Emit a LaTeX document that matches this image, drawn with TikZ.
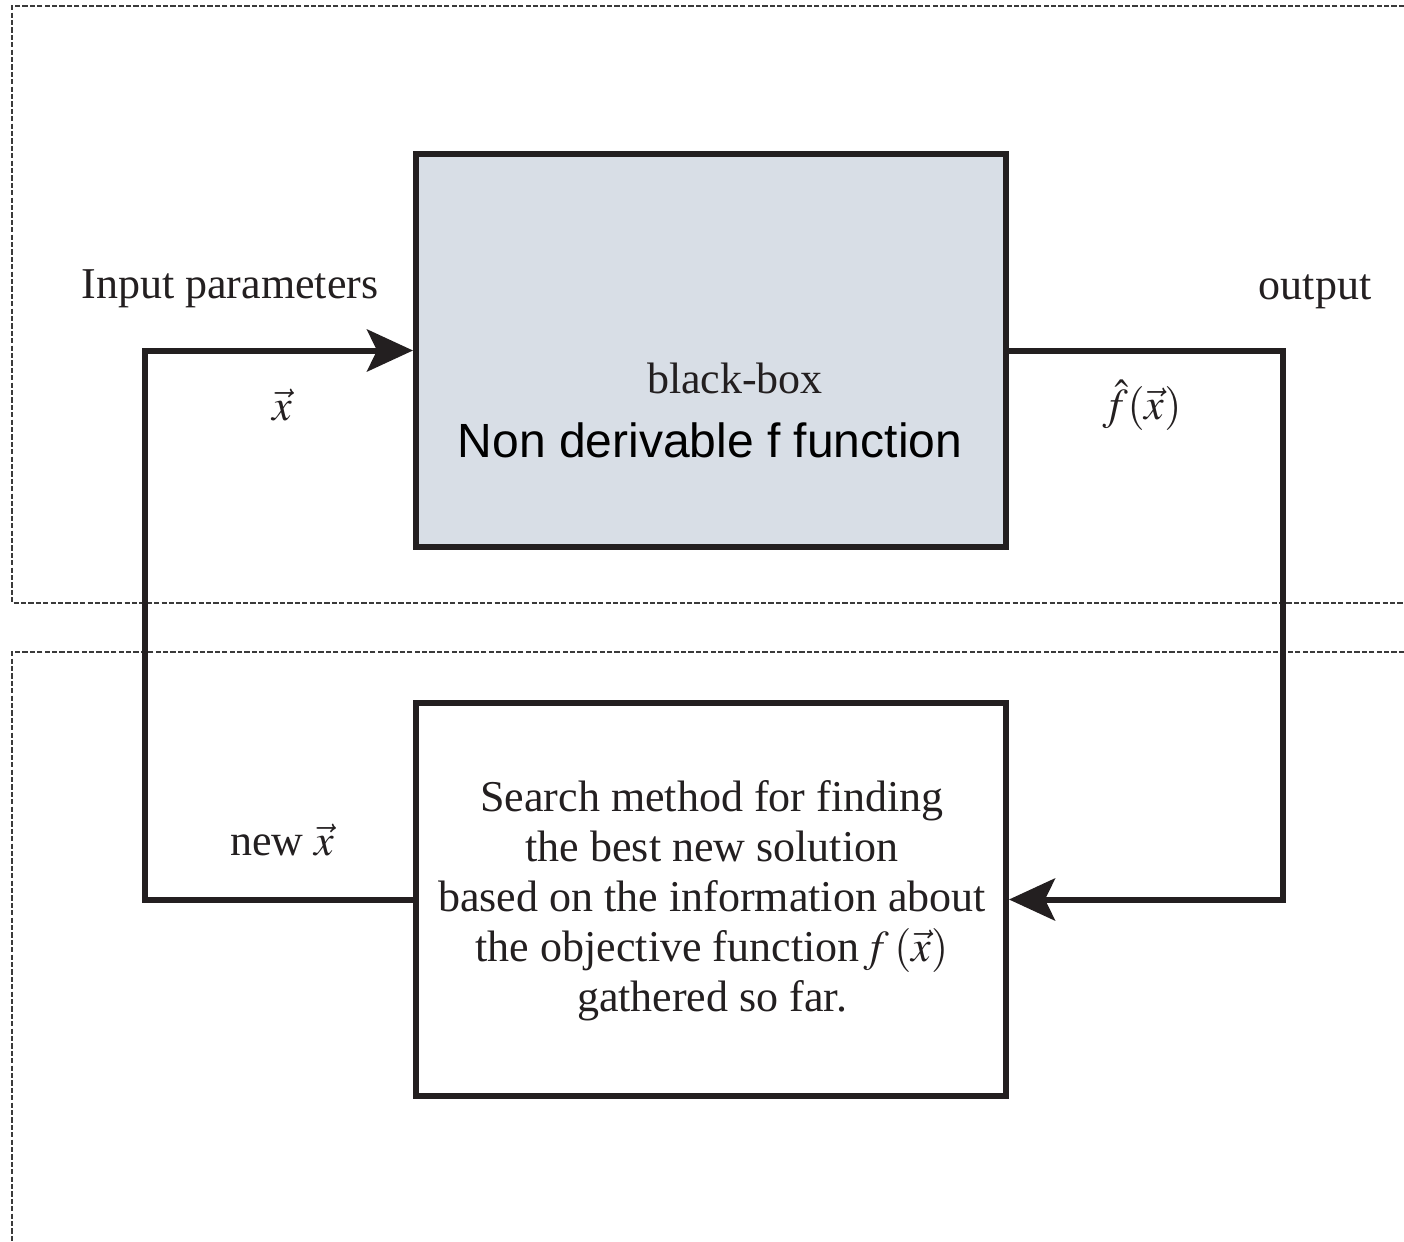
\documentclass[tikz,border=0pt]{standalone}
\usepackage{mathptmx}
\usepackage{fontspec}
\setmainfont{Liberation Serif}
\newfontfamily\arialfont{Liberation Sans}
\usetikzlibrary{arrows.meta}
\definecolor{ink}{HTML}{231F20}
\definecolor{boxfill}{HTML}{D8DEE6}
\definecolor{dashgray}{HTML}{3A3A3A}
\tikzset{
  frame/.style={draw=dashgray, line width=1.1pt, dash pattern=on 2.6pt off 1.1pt},
  blockbox/.style={draw=ink, line width=3pt, minimum width=295pt, minimum height=196.5pt, inner sep=0pt},
  conn/.style={draw=ink, line width=3pt},
  tip/.style={-{Stealth[length=23pt, width=21pt, inset=5pt]}},
  lbl/.style={text=ink, font=\fontsize{22pt}{25pt}\selectfont, inner sep=0pt},
}
\begin{document}
\begin{tikzpicture}[x=0.5pt, y=-0.5pt]
\useasboundingbox (0,0) rectangle (1404,1242);
% dashed frames
\draw[frame] (1404,6) -- (12,6) -- (12,603) -- (1404,603);
\draw[frame] (1404,652) -- (12,652) -- (12,1242);
% boxes
\node[blockbox, fill=boxfill] (bb) at (711,350.5) {};
\node[blockbox, fill=white] (sm) at (711,899.5) {};
% labels in boxes
\node[lbl] (bbt) at (735,378) {black-box};
\node[lbl, font=\arialfont\fontsize{24pt}{28pt}\selectfont, text=black] (nd) at (710,440) {Non derivable f function};
\node[lbl, align=center] (smt) at (712,901) {Search method for finding\\the best new solution\\based on the information about\\the objective function$\,f\,(\vec{x})$\\gathered so far.};
% outside labels
\node[lbl] (inp) at (230,289) {Input parameters};
\node[lbl] (xv) at (282,405) {$\vec{x}$};
\node[lbl] (outl) at (1315,292) {output};
\node[lbl] (fh) at (1142,405) {$\hat{f}(\vec{x})$};
\node[lbl] (nx) at (282,840) {new $\vec{x}$};
% connectors
\coordinate (lx) at (145,0);
\coordinate (rx) at (1283,0);
\draw[conn, tip] (sm.west) -| (lx |- bb.west) -- (bb.west);
\draw[conn, tip] (bb.east) -| (rx |- sm.east) -- (sm.east);
\end{tikzpicture}
\end{document}
